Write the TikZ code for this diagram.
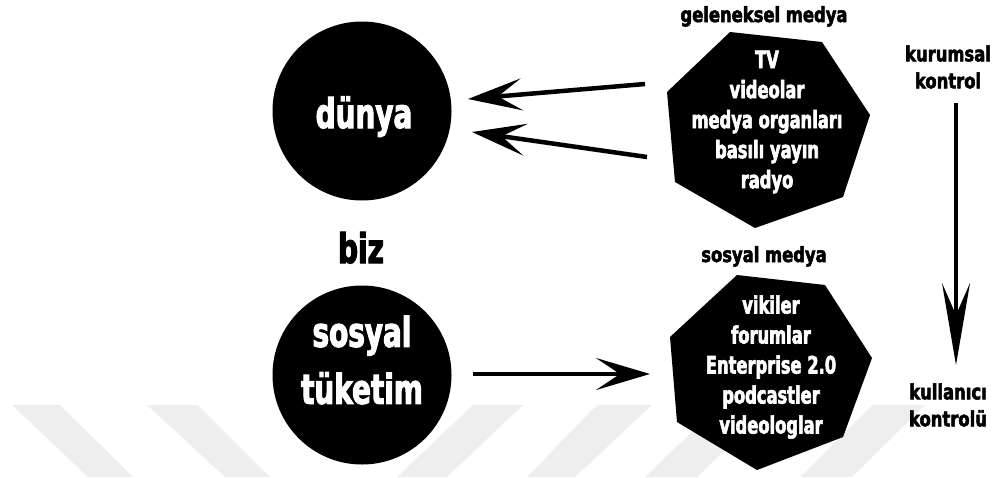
\documentclass[tikz,border=0pt]{standalone}
\usepackage{fontspec}
\usetikzlibrary{arrows.meta}
% condensed heavy faces for all lettering
\newfontfamily\condfont{DejaVu Sans}[FakeStretch=0.68, FakeBold=2.5]
\newfontfamily\capfont{DejaVu Sans}[FakeStretch=0.78, FakeBold=2.5]
\definecolor{stripe}{RGB}{238,238,238}

\tikzset{
  blob/.style={circle, fill=black, minimum size=179pt, inner sep=0pt},
  polyfill/.style={fill=black},
  bigword/.style={text=white, inner sep=0pt, align=center,
    font=\condfont\bfseries\fontsize{41}{57}\selectfont},
  bizword/.style={text=black, inner sep=0pt,
    font=\condfont\bfseries\fontsize{41}{50}\selectfont},
  listtext/.style={text=white, inner sep=0pt, align=center,
    font=\condfont\bfseries\fontsize{24}{30}\selectfont},
  caption/.style={text=black, inner sep=0pt, align=center,
    font=\capfont\bfseries\fontsize{21}{27}\selectfont},
  flow/.style={line width=4.5pt,
    -{Stealth[length=54pt, width=32pt, inset=24pt]}},
  downflow/.style={line width=4pt,
    -{Stealth[length=82pt, width=28pt, inset=32pt]}},
}

\begin{document}
\begin{tikzpicture}[x=1pt, y=-1pt]
\useasboundingbox (0,0) rectangle (1000,477);

% light diagonal bands along the bottom
\fill[stripe] (12,405) -- (60,405) -- (133,477) -- (88,477) -- cycle;
\fill[stripe] (147,405) -- (198,405) -- (270,477) -- (225,477) -- cycle;
\fill[stripe] (473,405) -- (523,405) -- (447,477) -- (397,477) -- cycle;
\fill[stripe] (597,405) -- (652,405) -- (575,477) -- (527,477) -- cycle;
\fill[stripe] (720,405) -- (772,405) -- (697,477) -- (645,477) -- cycle;
\fill[stripe] (872,405) -- (925,405) -- (852,477) -- (800,477) -- cycle;

% the two round nodes
\node[blob] (dunya) at (362,111) {};
\node[bigword, anchor=base] (dunyatxt) at (364,128) {dünya};
\node[blob] (sosyal) at (362,375) {};
\node[bigword] (sosyaltxt) at (362,360) {sosyal\\tüketim};
\node[bizword, anchor=base] (biz) at (361,263) {biz};

% the two media polygons
\fill[polyfill] (730,32) -- (822,42) -- (870,115) -- (843,197) -- (755,228)
  -- (675,182) -- (667,92) -- cycle;
\fill[polyfill] (737,275) -- (825,285) -- (872,358) -- (843,437) -- (757,470)
  -- (677,422) -- (670,337) -- cycle;

\node[listtext] (geleneksel) at (767,122)
  {TV\\videolar\\medya organları\\basılı yayın\\radyo};
\node[listtext] (sosyalmedya) at (771,367)
  {vikiler\\forumlar\\Enterprise 2.0\\podcastler\\videologlar};

\node[caption, anchor=base] (gelcap) at (764,22) {geleneksel medya};
\node[caption, anchor=base] (soscap) at (764,262) {sosyal medya};

% control axis labels
\node[caption] (kurumsal) at (948,67) {kurumsal\\kontrol};
\node[caption] (kullanici) at (948,405) {kullanıcı\\kontrolü};

% connector end points
\coordinate (a1s) at (645,84);
\coordinate (a1e) at (468,99);
\coordinate (a2s) at (647,157);
\coordinate (a2e) at (472,132);
\coordinate (a3s) at (473,374);
\coordinate (a3e) at (650,374);
\coordinate (a4s) at (956,103);
\coordinate (a4e) at (956,365);

\draw[flow] (a1s) -- (a1e);
\draw[flow] (a2s) -- (a2e);
\draw[flow] (a3s) -- (a3e);
\draw[downflow] (a4s) -- (a4e);
\end{tikzpicture}
\end{document}
